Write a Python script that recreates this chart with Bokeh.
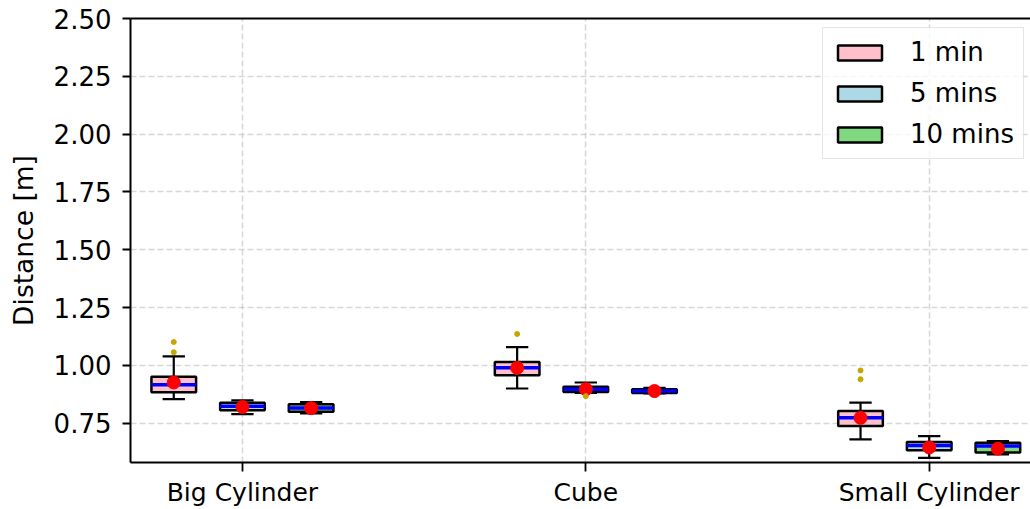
from bokeh.plotting import figure
from bokeh.models import (FixedTicker, NumeralTickFormatter, LinearAxis, Range1d,
                          Legend, LegendItem, ColumnDataSource)
from bokeh.embed import file_html
from bokeh.resources import INLINE

# ---- data -------------------------------------------------------------
categories = ["Big Cylinder", "Cube", "Small Cylinder"]
durations = ["1 min", "5 mins", "10 mins"]

whisker_low = {
    "1 min":   [0.854, 0.900, 0.680],
    "5 mins":  [0.789, 0.881, 0.600],
    "10 mins": [0.792, 0.879, 0.615],
}
q1 = {
    "1 min":   [0.884, 0.957, 0.738],
    "5 mins":  [0.806, 0.885, 0.633],
    "10 mins": [0.799, 0.881, 0.623],
}
median = {
    "1 min":   [0.916, 0.990, 0.773],
    "5 mins":  [0.823, 0.897, 0.654],
    "10 mins": [0.816, 0.889, 0.651],
}
q3 = {
    "1 min":   [0.951, 1.015, 0.803],
    "5 mins":  [0.838, 0.908, 0.669],
    "10 mins": [0.832, 0.897, 0.665],
}
whisker_high = {
    "1 min":   [1.039, 1.079, 0.839],
    "5 mins":  [0.849, 0.926, 0.694],
    "10 mins": [0.841, 0.903, 0.673],
}
mean = {
    "1 min":   [0.926, 0.989, 0.773],
    "5 mins":  [0.820, 0.897, 0.645],
    "10 mins": [0.815, 0.889, 0.640],
}
# outliers: (category index, value)
outliers = {
    "1 min":   [(0, 1.101), (0, 1.057), (1, 1.136), (2, 0.978), (2, 0.940)],
    "5 mins":  [(1, 0.867)],
    "10 mins": [],
}
y_ticks = [0.75, 1.00, 1.25, 1.50, 1.75, 2.00, 2.25, 2.50]

# ---- styling ----------------------------------------------------------
fills = {"1 min": "#ffc0cb", "5 mins": "#add8e6", "10 mins": "#80d880"}
offsets = {"1 min": -0.2, "5 mins": 0.0, "10 mins": 0.2}
box_w = 0.13
cap_w = box_w / 2
FONT = "DejaVu Sans"

p = figure(width=1030, height=509, output_backend="svg", toolbar_location=None,
           x_range=Range1d(0.674, 3.295), y_range=Range1d(0.58, 2.5))
p.min_border_left = 130
p.min_border_right = 0
p.min_border_top = 18
p.min_border_bottom = 47
p.outline_line_color = None
p.background_fill_color = "white"
p.border_fill_color = "white"

legend_items = []
for d in durations:
    xs = [i + 1 + offsets[d] for i in range(len(categories))]
    src = ColumnDataSource(dict(
        x=xs,
        left=[x - box_w / 2 for x in xs], right=[x + box_w / 2 for x in xs],
        cl=[x - cap_w / 2 for x in xs], cr=[x + cap_w / 2 for x in xs],
        q1=q1[d], q3=q3[d], med=median[d], wl=whisker_low[d], wh=whisker_high[d],
        mean=mean[d],
    ))
    # whiskers
    p.segment(x0="x", x1="x", y0="wl", y1="q1", source=src, line_color="black", line_width=2.2)
    p.segment(x0="x", x1="x", y0="q3", y1="wh", source=src, line_color="black", line_width=2.2)
    # caps
    p.segment(x0="cl", x1="cr", y0="wl", y1="wl", source=src, line_color="black", line_width=2.2)
    p.segment(x0="cl", x1="cr", y0="wh", y1="wh", source=src, line_color="black", line_width=2.2)
    # boxes
    r = p.quad(left="left", right="right", bottom="q1", top="q3", source=src,
               fill_color=fills[d], line_color="black", line_width=2.5)
    legend_items.append(LegendItem(label=d, renderers=[r]))
    # medians
    p.segment(x0="left", x1="right", y0="med", y1="med", source=src,
              line_color="#0000ff", line_width=3.5)
    # means
    p.scatter(x="x", y="mean", source=src, size=13, color="#ff0000", marker="circle")
    # fliers
    if outliers[d]:
        p.scatter(x=[i + 1 + offsets[d] for i, _ in outliers[d]],
                  y=[v for _, v in outliers[d]],
                  size=5, color="#c8a600", marker="circle")

# ---- axes -------------------------------------------------------------
xa = p.xaxis[0]
xa.ticker = FixedTicker(ticks=[1, 2, 3])
xa.major_label_overrides = {1: categories[0], 2: categories[1], 3: categories[2]}
ya = p.yaxis[0]
ya.ticker = FixedTicker(ticks=y_ticks)
ya.formatter = NumeralTickFormatter(format="0.00")
ya.axis_label = "Distance [m]"
ya.axis_label_text_font = FONT
ya.axis_label_text_font_style = "normal"
ya.axis_label_text_font_size = "26.5px"
ya.axis_label_text_color = "black"
ya.axis_label_standoff = 12

for ax in (xa, ya):
    ax.axis_line_width = 2
    ax.axis_line_color = "black"
    ax.major_tick_line_width = 1.8
    ax.major_tick_line_color = "black"
    ax.major_tick_in = 0
    ax.minor_tick_line_color = None
    ax.major_label_text_font = FONT
    ax.major_label_text_color = "black"
xa.major_tick_out = 9
xa.major_label_standoff = 6
xa.major_label_text_font_size = "25px"
ya.major_tick_out = 8
ya.major_label_standoff = 11
ya.major_label_text_font_size = "26px"

top = LinearAxis(ticker=FixedTicker(ticks=[]), axis_line_width=2, axis_line_color="black",
                 major_tick_line_color=None, minor_tick_line_color=None,
                 major_label_text_font_size="0px")
p.add_layout(top, "above")

# ---- grid -------------------------------------------------------------
p.xgrid.ticker = FixedTicker(ticks=[1, 2, 3])
p.ygrid.ticker = FixedTicker(ticks=y_ticks)
for g in (p.xgrid, p.ygrid):
    g.grid_line_color = "#b0b0b0"
    g.grid_line_alpha = 0.5
    g.grid_line_width = 1.5
    g.grid_line_dash = "6 3"

# ---- legend -----------------------------------------------------------
legend = Legend(items=legend_items, location=(692, 303))
legend.label_text_font = FONT
legend.label_text_font_size = "26px"
legend.label_text_color = "black"
legend.glyph_width = 55
legend.glyph_height = 19
legend.label_standoff = 23
legend.label_height = 20
legend.spacing = 11
legend.padding = 9
legend.border_line_color = "#cccccc"
legend.border_line_width = 1.5
legend.background_fill_color = "white"
legend.background_fill_alpha = 0.8
p.add_layout(legend)

open("out.html", "w").write(file_html(p, INLINE))
